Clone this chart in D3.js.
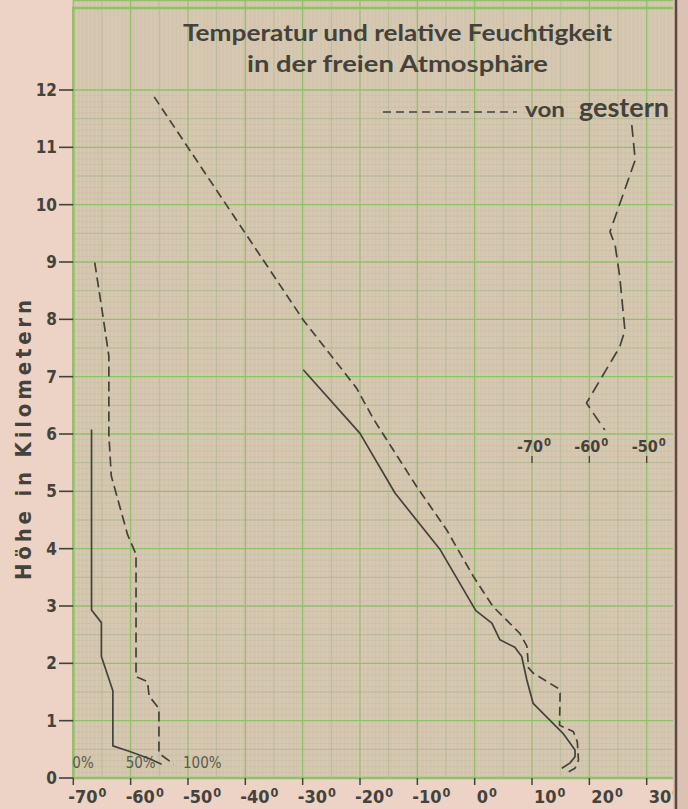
<!DOCTYPE html>
<html>
<head>
<meta charset="utf-8">
<script src="https://cdn.jsdelivr.net/npm/d3@7"></script>
<style>
  html, body { margin: 0; padding: 0; background: #ebd2c4; }
  svg { display: block; }
</style>
</head>
<body>
<div id="chart"></div>
<script>
// Temperatur und relative Feuchtigkeit in der freien Atmosphaere
// values: [height km, value]

var tempTicks = [-70, -60, -50, -40, -30, -20, -10, 0, 10, 20, 30];
var heightTicks = [0, 1, 2, 3, 4, 5, 6, 7, 8, 9, 10, 11, 12];
var humTicks = [0, 50, 100];
var stratTicks = [-70, -60, -50];

// temperature today (solid)
var tempToday = [[7.12, -29.9], [6.01, -20.0], [4.97, -13.9], [3.98, -6.0], [2.92, 0.2],
  [2.70, 3.0], [2.41, 4.4], [2.28, 7.0], [2.12, 8.2], [1.71, 9.1], [1.30, 10.2],
  [1.01, 13.1], [0.78, 15.4], [0.49, 17.5], [0.37, 17.5], [0.26, 16.6], [0.17, 15.2]];

// temperature yesterday (dashed)
var tempYesterday = [[11.88, -55.9], [7.99, -29.9], [6.80, -20.6], [6.27, -17.7], [5.08, -10.1],
  [4.33, -4.9], [3.51, -0.2], [2.99, 3.2], [2.52, 7.9], [2.30, 9.1], [1.92, 9.4],
  [1.83, 10.2], [1.56, 14.6], [1.48, 14.9], [0.92, 14.8], [0.81, 17.2], [0.63, 17.9],
  [0.31, 18.1], [0.17, 17.5], [0.11, 16.4]];

// relative humidity today (solid), percent
var humToday = [[6.08, 15.9], [2.93, 15.9], [2.71, 24.5], [2.12, 24.5], [1.52, 34.5],
  [0.56, 34.5], [0.47, 48], [0.34, 66], [0.24, 77]];

// relative humidity yesterday (dashed), percent
var humYesterday = [[8.99, 18.7], [8.05, 25.9], [7.36, 31], [5.99, 31], [5.27, 33.1],
  [4.24, 47.4], [3.90, 54.7], [1.77, 54.7], [1.68, 64.7], [1.43, 66.1], [1.21, 74.7],
  [0.43, 74.7], [0.24, 87.7]];

// upper temperature yesterday on the shifted scale (-70 .. -50)
var stratYesterday = [[11.39, -52.6], [10.78, -52.0], [9.53, -56.4], [9.29, -55.5],
  [8.74, -54.7], [7.81, -53.8], [7.52, -54.7], [6.54, -60.5], [6.36, -59.3], [6.07, -57.3]];

var W = 688, H = 809;

var x = d3.scaleLinear().domain([-70, 30]).range([73.3, 646.7]);
var y = d3.scaleLinear().domain([0, 12]).range([778, 90]);
var hx = d3.scaleLinear().domain([0, 100]).range([x(-70), x(-50)]);
var sx = d3.scaleLinear().domain([-70, -50]).range([x(10), x(30)]);

var ink = "#44423a", grn = "#90c06a";
var rightEdge = 673;

var svg = d3.select("#chart").append("svg")
    .attr("width", W).attr("height", H);

svg.append("rect").attr("width", W).attr("height", H).attr("fill", "#ecd3c5");

var defs = svg.append("defs");
defs.append("clipPath").attr("id", "page")
  .append("rect").attr("x", 0).attr("y", 0).attr("width", rightEdge).attr("height", H);

var page = svg.append("g").attr("clip-path", "url(#page)");

// graph paper
var left = x(-70), top = y(12), bottom = y(0);
page.append("rect")
    .attr("x", left).attr("y", top)
    .attr("width", rightEdge - left).attr("height", bottom - top)
    .attr("fill", "#ebdac3");

function gridStyle(sel, i, step) {
    var major = i % (10 * step) === 0, mid = i % (5 * step) === 0;
    sel.attr("stroke", major ? grn : (mid ? "#a2b184" : "#b4b693"))
       .attr("stroke-width", major ? 1.3 : (mid ? 0.8 : 0.5))
       .attr("opacity", major ? 1 : (mid ? 0.8 : 0.55));
}
var grid = page.append("g");
var tMax = x.invert(rightEdge);
d3.range(-700, Math.floor(tMax * 10) + 1).forEach(function(i) {
    var v = i / 10;
    grid.append("line")
        .attr("x1", x(v)).attr("x2", x(v)).attr("y1", top).attr("y2", bottom)
        .call(gridStyle, i, 10);
});
d3.range(0, 121).forEach(function(i) {
    var v = i / 10;
    grid.append("line")
        .attr("x1", left).attr("x2", rightEdge).attr("y1", y(v)).attr("y2", y(v))
        .call(gridStyle, i, 1);
});

// frame: title box + plot border
page.append("path")
    .attr("d", "M" + left + "," + bottom + "V8H" + (rightEdge + 4))
    .attr("fill", "none").attr("stroke", grn).attr("stroke-width", 2.5);
page.append("line")
    .attr("x1", left).attr("x2", rightEdge + 4).attr("y1", top).attr("y2", top)
    .attr("stroke", grn).attr("stroke-width", 2.5);
page.append("line")
    .attr("x1", left).attr("x2", rightEdge + 4).attr("y1", bottom).attr("y2", bottom)
    .attr("stroke", grn).attr("stroke-width", 2.5);

// title
var title = page.append("g").attr("fill", ink)
    .attr("font-family", "Lato, 'DejaVu Sans Condensed', sans-serif")
    .attr("font-weight", "bold").attr("font-size", 23);
title.append("text").attr("x", 183).attr("y", 41)
    .attr("textLength", 429).attr("lengthAdjust", "spacingAndGlyphs")
    .text("Temperatur und relative Feuchtigkeit");
title.append("text").attr("x", 247).attr("y", 72)
    .attr("textLength", 301).attr("lengthAdjust", "spacingAndGlyphs")
    .text("in der freien Atmosphäre");

// y axis
var yAxis = page.append("g");
heightTicks.forEach(function(h) {
    yAxis.append("line").attr("x1", 59).attr("x2", left).attr("y1", y(h)).attr("y2", y(h))
        .attr("stroke", ink).attr("stroke-width", 1.6);
    yAxis.append("text").attr("x", 57).attr("y", y(h) + 6)
        .attr("text-anchor", "end").attr("fill", ink)
        .attr("font-family", "'DejaVu Sans Condensed', sans-serif")
        .attr("font-weight", "bold").attr("font-size", 17)
        .text(h);
});
page.append("text")
    .attr("transform", "translate(31,440) rotate(-90)")
    .attr("text-anchor", "middle").attr("fill", ink)
    .attr("font-family", "'DejaVu Sans Condensed', sans-serif")
    .attr("font-weight", "bold").attr("font-size", 22)
    .attr("textLength", 280).attr("lengthAdjust", "spacing")
    .text("Höhe in Kilometern");

// x axis
function degLabel(g, v, px, py, anchor, size) {
    var t = g.append("text").attr("x", px).attr("y", py)
        .attr("text-anchor", anchor).attr("fill", ink)
        .attr("font-family", "'DejaVu Sans Condensed', sans-serif")
        .attr("font-weight", "bold").attr("font-size", size);
    t.append("tspan").text(v);
    t.append("tspan").attr("dx", 1).attr("dy", -size * 0.35).attr("font-size", size * 0.7).text("0");
    return t;
}
var xAxis = page.append("g");
tempTicks.forEach(function(t) {
    xAxis.append("line").attr("x1", x(t)).attr("x2", x(t)).attr("y1", bottom).attr("y2", bottom + 7)
        .attr("stroke", ink).attr("stroke-width", 1.5);
    degLabel(xAxis, t < 0 ? "-" + Math.abs(t) : t, x(t) + (t < 0 ? -5 : 2), 803, "start", 18);
});

// shifted temperature scale for the upper curve
var sAxis = page.append("g");
stratTicks.forEach(function(t) {
    sAxis.append("line").attr("x1", sx(t)).attr("x2", sx(t)).attr("y1", 456).attr("y2", 463)
        .attr("stroke", ink).attr("stroke-width", 1.3);
    degLabel(sAxis, "-" + Math.abs(t), sx(t) + 2, 452, "middle", 16);
});

// humidity labels
humTicks.forEach(function(v) {
    page.append("text").attr("x", hx(v) - (v === 0 ? 1 : 5)).attr("y", 768)
        .attr("fill", "#5b5a4c")
        .attr("font-family", "'DejaVu Sans Condensed', sans-serif")
        .attr("font-size", 15)
        .text(v + "%");
});

// curves
var lineT = d3.line().x(function(d) { return x(d[1]); }).y(function(d) { return y(d[0]); });
var lineH = d3.line().x(function(d) { return hx(d[1]); }).y(function(d) { return y(d[0]); });
var lineS = d3.line().x(function(d) { return sx(d[1]); }).y(function(d) { return y(d[0]); });

var curves = [
    { data: tempToday, gen: lineT, dash: null },
    { data: tempYesterday, gen: lineT, dash: "9,5" },
    { data: humToday, gen: lineH, dash: null },
    { data: humYesterday, gen: lineH, dash: "10,5" },
    { data: stratYesterday, gen: lineS, dash: "12,6" }
];
curves.forEach(function(c) {
    page.append("path").attr("d", c.gen(c.data))
        .attr("fill", "none").attr("stroke", ink).attr("stroke-width", 1.7)
        .attr("stroke-linejoin", "round")
        .attr("stroke-dasharray", c.dash);
});

// legend
page.append("line").attr("x1", 383).attr("x2", 517).attr("y1", 112).attr("y2", 112)
    .attr("stroke", ink).attr("stroke-width", 1.6).attr("stroke-dasharray", "8,5");
page.append("text").attr("x", 525).attr("y", 117).attr("fill", ink)
    .attr("font-family", "Lato, sans-serif").attr("font-weight", "bold").attr("font-size", 21)
    .attr("textLength", 40).attr("lengthAdjust", "spacingAndGlyphs")
    .text("von");
page.append("text").attr("x", 579).attr("y", 117).attr("fill", ink)
    .attr("font-family", "Lato, sans-serif").attr("font-weight", "bold").attr("font-size", 26)
    .attr("textLength", 90).attr("lengthAdjust", "spacingAndGlyphs")
    .text("gestern");

// book fold on the right
svg.append("rect").attr("x", rightEdge).attr("y", 0).attr("width", W - rightEdge).attr("height", H)
    .attr("fill", "#dcc2b2");
svg.append("line").attr("x1", rightEdge + 3).attr("x2", rightEdge + 3).attr("y1", 0).attr("y2", H)
    .attr("stroke", "#5b4a40").attr("stroke-width", 2.5);
</script>
</body>
</html>
